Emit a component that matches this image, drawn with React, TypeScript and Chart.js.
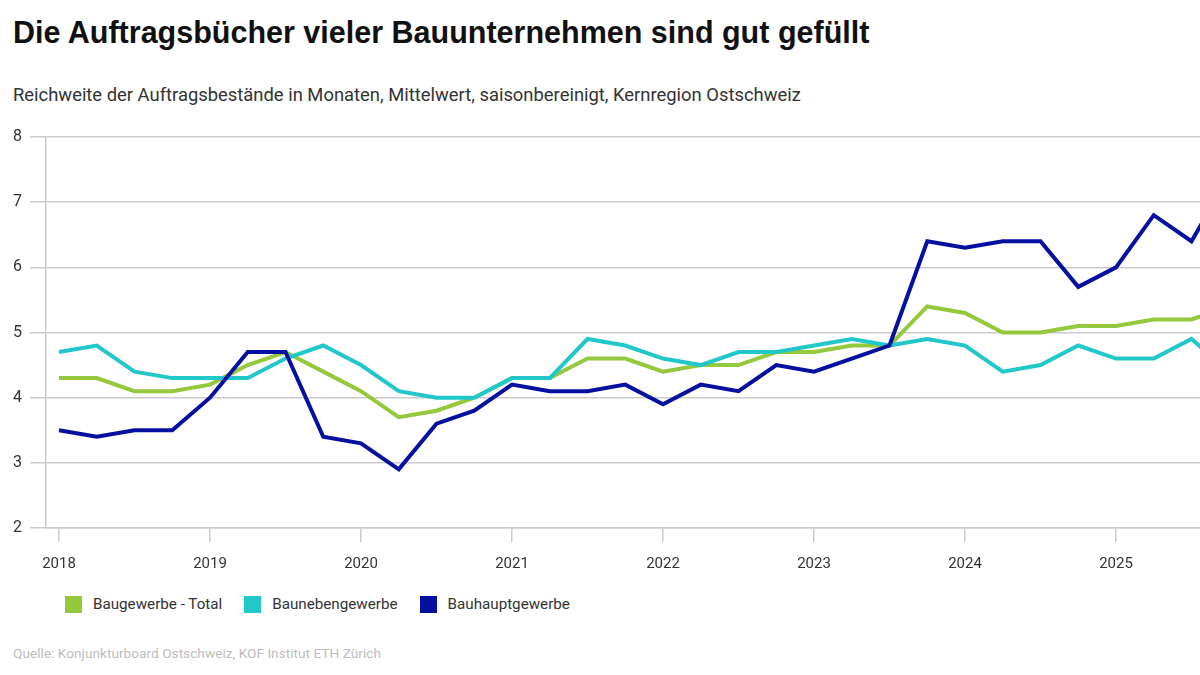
import { useEffect, useRef } from "react";
import { Chart, registerables } from "chart.js";

Chart.register(...registerables);

const TITLE = "Die Auftragsbücher vieler Bauunternehmen sind gut gefüllt";
const SUBTITLE =
  "Reichweite der Auftragsbestände in Monaten, Mittelwert, saisonbereinigt, Kernregion Ostschweiz";
const SOURCE = "Quelle: Konjunkturboard Ostschweiz, KOF Institut ETH Zürich";

// Quarterly observations, 2018 Q1 to 2025 Q4
const quarters = [
  "2018 Q1", "2018 Q2", "2018 Q3", "2018 Q4",
  "2019 Q1", "2019 Q2", "2019 Q3", "2019 Q4",
  "2020 Q1", "2020 Q2", "2020 Q3", "2020 Q4",
  "2021 Q1", "2021 Q2", "2021 Q3", "2021 Q4",
  "2022 Q1", "2022 Q2", "2022 Q3", "2022 Q4",
  "2023 Q1", "2023 Q2", "2023 Q3", "2023 Q4",
  "2024 Q1", "2024 Q2", "2024 Q3", "2024 Q4",
  "2025 Q1", "2025 Q2", "2025 Q3", "2025 Q4",
];

const yearTicks = [2018, 2019, 2020, 2021, 2022, 2023, 2024, 2025];
const valueTicks = [2, 3, 4, 5, 6, 7, 8];

const baugewerbeTotal = [
  4.3, 4.3, 4.1, 4.1,
  4.2, 4.5, 4.7, 4.4,
  4.1, 3.7, 3.8, 4.0,
  4.3, 4.3, 4.6, 4.6,
  4.4, 4.5, 4.5, 4.7,
  4.7, 4.8, 4.8, 5.4,
  5.3, 5.0, 5.0, 5.1,
  5.1, 5.2, 5.2, 5.4,
];

const baunebengewerbe = [
  4.7, 4.8, 4.4, 4.3,
  4.3, 4.3, 4.6, 4.8,
  4.5, 4.1, 4.0, 4.0,
  4.3, 4.3, 4.9, 4.8,
  4.6, 4.5, 4.7, 4.7,
  4.8, 4.9, 4.8, 4.9,
  4.8, 4.4, 4.5, 4.8,
  4.6, 4.6, 4.9, 4.4,
];

const bauhauptgewerbe = [
  3.5, 3.4, 3.5, 3.5,
  4.0, 4.7, 4.7, 3.4,
  3.3, 2.9, 3.6, 3.8,
  4.2, 4.1, 4.1, 4.2,
  3.9, 4.2, 4.1, 4.5,
  4.4, 4.6, 4.8, 6.4,
  6.3, 6.4, 6.4, 5.7,
  6.0, 6.8, 6.4, 7.4,
];

const seriesNames = ["Baugewerbe - Total", "Baunebengewerbe", "Bauhauptgewerbe"];
const seriesColors = ["#94c83d", "#22c8c9", "#0510a0"];

const FONT = "Roboto, 'Liberation Sans', sans-serif";
const TEXT = "#333333";
const GRID = "#cbcbcb";

// "2019 Q3" -> 2019.5
function quarterToYear(label: string): number {
  const [y, q] = label.split(" Q");
  return Number(y) + (Number(q) - 1) / 4;
}

function toPoints(values: number[]) {
  return values.map((v, i) => ({ x: quarterToYear(quarters[i]), y: v }));
}

export default function App() {
  const canvasRef = useRef<HTMLCanvasElement | null>(null);

  useEffect(() => {
    const canvas = canvasRef.current;
    if (!canvas) return;
    const allSeries = [baugewerbeTotal, baunebengewerbe, bauhauptgewerbe];
    const chart = new Chart(canvas, {
      type: "line",
      data: {
        datasets: allSeries.map((values, i) => ({
          label: seriesNames[i],
          data: toPoints(values),
          borderColor: seriesColors[i],
          backgroundColor: seriesColors[i],
          borderWidth: 4,
          pointRadius: 0,
          pointHoverRadius: 0,
          tension: 0,
          borderJoinStyle: "miter" as const,
          borderCapStyle: "butt" as const,
          order: allSeries.length - 1 - i,
        })),
      },
      options: {
        animation: false,
        responsive: false,
        devicePixelRatio: 1,
        events: [],
        layout: { padding: { top: 27, right: 0, bottom: 0, left: 0 } },
        plugins: {
          legend: { display: false },
          tooltip: { enabled: false },
          title: { display: false },
        },
        scales: {
          x: {
            type: "linear",
            min: 2018 - 13 / 151,
            max: 2018 + 1141 / 151,
            afterBuildTicks: (scale: any) => {
              scale.ticks = yearTicks.map((v) => ({ value: v }));
            },
            afterFit: (scale: any) => {
              scale.height = 52;
            },
            grid: {
              display: true,
              drawOnChartArea: false,
              drawTicks: true,
              tickLength: 14,
              color: GRID,
              lineWidth: 1.5,
            },
            border: { display: true, color: GRID, width: 1.5 },
            ticks: {
              color: TEXT,
              font: { family: FONT, size: 15 },
              padding: 13,
              maxRotation: 0,
              autoSkip: false,
              callback: (v: any) => String(v),
            },
          },
          y: {
            type: "linear",
            min: 2,
            max: 8,
            afterBuildTicks: (scale: any) => {
              scale.ticks = valueTicks.map((v) => ({ value: v }));
            },
            afterFit: (scale: any) => {
              scale.width = 46;
            },
            grid: {
              color: GRID,
              lineWidth: 1.5,
              drawTicks: true,
              tickLength: 16,
            },
            border: { display: true, color: GRID, width: 1.5 },
            ticks: {
              color: TEXT,
              font: { family: FONT, size: 16 },
              padding: 8,
            },
          },
        },
      },
    });
    return () => chart.destroy();
  }, []);

  return (
    <div
      style={{
        position: "absolute",
        left: 0,
        top: 0,
        width: 1200,
        height: 675,
        overflow: "hidden",
        background: "#ffffff",
        fontFamily: FONT,
      }}
    >
      <div
        style={{
          position: "absolute",
          left: 13,
          top: 13,
          fontFamily: "'Liberation Sans', Arial, sans-serif",
          fontWeight: 700,
          fontSize: 30.5,
          lineHeight: "38px",
          color: "#111111",
          whiteSpace: "nowrap",
        }}
      >
        {TITLE}
      </div>
      <div
        style={{
          position: "absolute",
          left: 13,
          top: 83,
          fontSize: 18.4,
          lineHeight: "24px",
          color: TEXT,
          whiteSpace: "nowrap",
        }}
      >
        {SUBTITLE}
      </div>
      <canvas
        ref={canvasRef}
        width={1200}
        height={470}
        style={{ position: "absolute", left: 0, top: 110, width: 1200, height: 470 }}
      />
      <div
        style={{
          position: "absolute",
          left: 65,
          top: 595,
          display: "flex",
          alignItems: "center",
          gap: 22,
          fontSize: 15.2,
          lineHeight: "18px",
          color: TEXT,
          whiteSpace: "nowrap",
        }}
      >
        {seriesNames.map((name, i) => (
          <div key={name} style={{ display: "flex", alignItems: "center", gap: 11 }}>
            <span
              style={{
                display: "inline-block",
                width: 17,
                height: 17,
                background: seriesColors[i],
              }}
            />
            <span>{name}</span>
          </div>
        ))}
      </div>
      <div
        style={{
          position: "absolute",
          left: 13,
          top: 644,
          fontSize: 13.7,
          lineHeight: "18px",
          color: "#bdbdbd",
          whiteSpace: "nowrap",
        }}
      >
        {SOURCE}
      </div>
    </div>
  );
}
